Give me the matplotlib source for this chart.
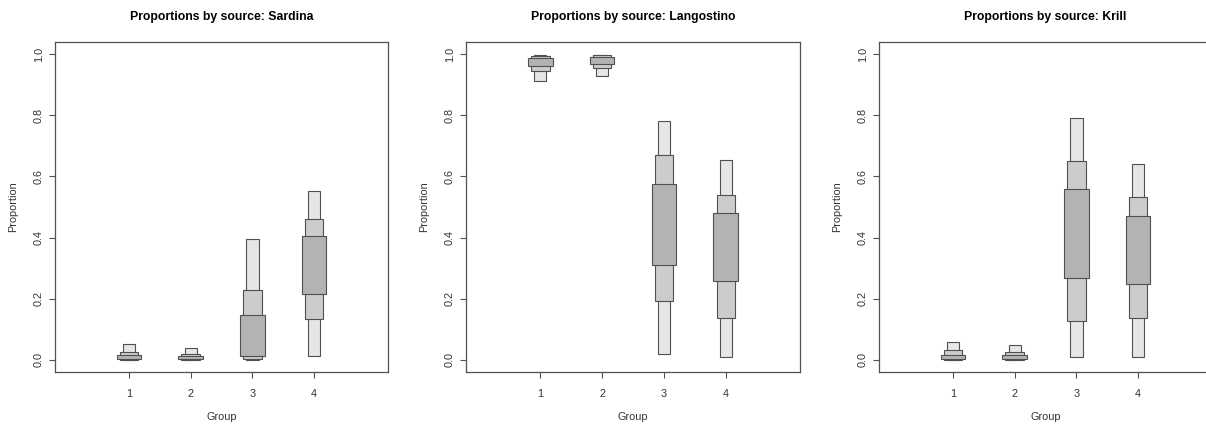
import numpy as np
import matplotlib
matplotlib.use("Agg")
import matplotlib.pyplot as plt

plt.rcParams['font.family'] = ['Liberation Sans', 'DejaVu Sans']

groups = [1, 2, 3, 4]
sources = ["Sardina", "Langostino", "Krill"]

# credible intervals per source, one value per group
sardina_lo95 = [0.000, 0.000, 0.000, 0.012]
sardina_hi95 = [0.051, 0.040, 0.394, 0.551]
sardina_lo75 = [0.000, 0.000, 0.002, 0.134]
sardina_hi75 = [0.026, 0.019, 0.229, 0.462]
sardina_lo50 = [0.001, 0.001, 0.013, 0.216]
sardina_hi50 = [0.015, 0.012, 0.148, 0.406]

langostino_lo95 = [0.913, 0.929, 0.019, 0.008]
langostino_hi95 = [0.998, 0.999, 0.781, 0.654]
langostino_lo75 = [0.945, 0.954, 0.191, 0.138]
langostino_hi75 = [0.995, 0.997, 0.671, 0.539]
langostino_lo50 = [0.960, 0.967, 0.309, 0.258]
langostino_hi50 = [0.989, 0.992, 0.574, 0.481]

krill_lo95 = [0.000, 0.000, 0.010, 0.008]
krill_hi95 = [0.059, 0.048, 0.791, 0.641]
krill_lo75 = [0.000, 0.000, 0.128, 0.136]
krill_hi75 = [0.031, 0.024, 0.650, 0.534]
krill_lo50 = [0.001, 0.001, 0.268, 0.248]
krill_hi50 = [0.017, 0.016, 0.559, 0.471]

intervals = {
    "Sardina": [(sardina_lo95, sardina_hi95), (sardina_lo75, sardina_hi75), (sardina_lo50, sardina_hi50)],
    "Langostino": [(langostino_lo95, langostino_hi95), (langostino_lo75, langostino_hi75), (langostino_lo50, langostino_hi50)],
    "Krill": [(krill_lo95, krill_hi95), (krill_lo75, krill_hi75), (krill_lo50, krill_hi50)],
}

shades = ['#e6e6e6', '#cccccc', '#b3b3b3']
widths = [0.2, 0.3, 0.4]

W, H = 1206, 425
fig = plt.figure(figsize=(W / 100, H / 100), dpi=100)

# axes boxes in pixels: left, right (top 42, bottom 372)
boxes = [(55, 388), (466, 800), (879, 1212)]

for name, (x0, x1) in zip(sources, boxes):
    ax = fig.add_axes([x0 / W, (H - 372) / H, (x1 - x0) / W, 330 / H])
    for (lo, hi), col, w in zip(intervals[name], shades, widths):
        lo = np.array(lo)
        hi = np.array(hi)
        ax.bar(groups, hi - lo, bottom=lo, width=w, color=col,
               edgecolor='#505050', linewidth=0.8, zorder=2)
    ax.set_xlim(-0.2, 5.2)
    ax.set_ylim(-0.04, 1.04)
    ax.set_xticks(groups)
    ax.set_yticks([0.0, 0.2, 0.4, 0.6, 0.8, 1.0])
    ax.set_yticklabels(['0.0', '0.2', '0.4', '0.6', '0.8', '1.0'],
                       rotation=90, va='center')
    ax.tick_params(direction='out', length=4.5, width=0.8, colors='#505050',
                   labelcolor='#333333', labelsize=7.8)
    ax.tick_params(axis='x', pad=8)
    ax.tick_params(axis='y', pad=3.5)
    for sp in ax.spines.values():
        sp.set_color('#505050')
        sp.set_linewidth(0.9)
    ax.set_title(f"Proportions by source: {name}", fontsize=8.8,
                 fontweight='bold', pad=16)
    ax.set_xlabel("Group", fontsize=7.8, color='#333333', labelpad=9)
    ax.set_ylabel("Proportion", fontsize=7.8, color='#333333', labelpad=11)

fig.savefig("out.png", dpi=100)
